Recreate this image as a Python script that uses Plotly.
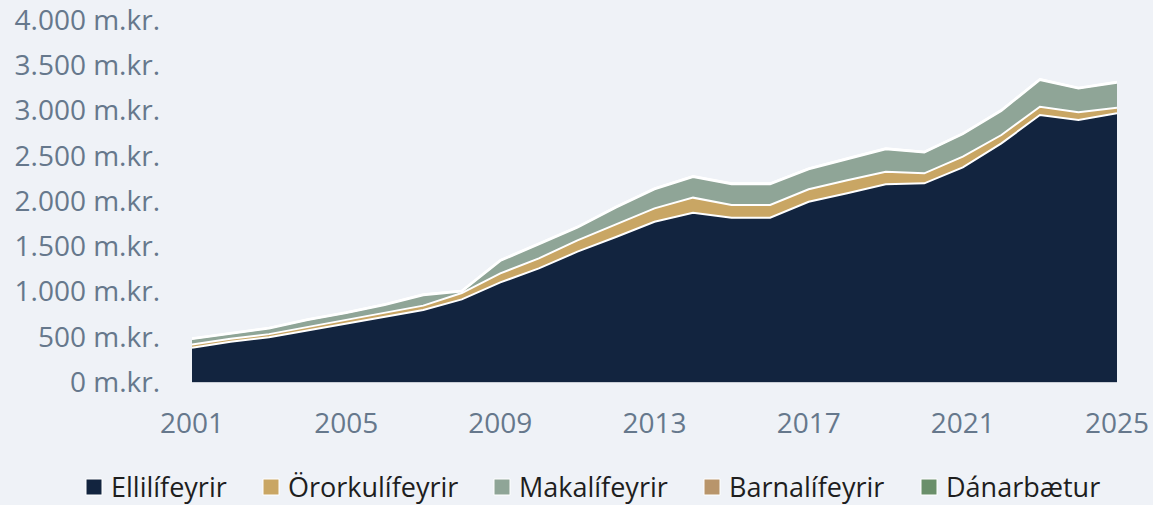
import plotly.graph_objects as go

# --- data (m.kr.) ---
years = list(range(2001, 2026))
ellilifeyrir = [379, 445, 494, 571, 644, 722, 796, 913, 1101, 1256, 1440, 1602, 1771,
                1871, 1816, 1816, 1992, 2085, 2184, 2195, 2372, 2637, 2950, 2895, 2969]
ororkulifeyrir = [35, 33, 35, 38, 42, 46, 48, 70, 100, 110, 125, 140, 148,
                  166, 140, 140, 137, 145, 140, 111, 118, 92, 92, 85, 62]
makalifeyrir = [60, 55, 62, 75, 75, 83, 115, 18, 137, 155, 140, 185, 211,
                229, 229, 229, 222, 232, 248, 229, 248, 267, 296, 262, 277]
barnalifeyrir = [7, 7, 7, 7, 7, 7, 8, 6, 8, 8, 8, 8, 8,
                 8, 8, 8, 8, 8, 8, 8, 8, 8, 8, 8, 8]
danarbaetur = [2, 2, 2, 2, 2, 2, 2, 2, 2, 2, 2, 2, 2,
               2, 2, 2, 2, 2, 2, 2, 2, 2, 2, 2, 2]

names = ["Ellilífeyrir", "Örorkulífeyrir", "Makalífeyrir", "Barnalífeyrir", "Dánarbætur"]
values = [ellilifeyrir, ororkulifeyrir, makalifeyrir, barnalifeyrir, danarbaetur]
colors = ["#12243F", "#C9A664", "#8FA597", "#B8956B", "#6A8F6A"]

W, H = 1153, 505
M_L, M_R, M_T, M_B = 192, 36, 20, 123
bg = "#EFF2F7"
txt = "#66788C"
font_family = "Open Sans"

fig = go.Figure()

for name, vals, color in zip(names, values, colors):
    fig.add_trace(go.Scatter(
        x=years, y=vals, name=name,
        mode="lines", stackgroup="one",
        line=dict(color="white", width=2),
        fillcolor=color,
        hoverinfo="x+y+name",
    ))

# --- legend drawn by hand (square swatch + label), one row under the axis ---
plot_w = W - M_L - M_R
plot_h = H - M_T - M_B
legend_left_px = [86, 263, 494, 704, 921]   # swatch left edges in px
legend_mid_px = 487                          # vertical centre in px
sw = 16
for name, color, lx in zip(names, colors, legend_left_px):
    x0 = (lx - M_L) / plot_w
    x1 = (lx + sw - M_L) / plot_w
    yc = (H - M_B - legend_mid_px) / plot_h
    hh = (sw / 2) / plot_h
    fig.add_shape(type="rect", xref="paper", yref="paper",
                  x0=x0, x1=x1, y0=yc - hh, y1=yc + hh,
                  fillcolor=color, line=dict(color="white", width=1))
    fig.add_annotation(xref="paper", yref="paper",
                       x=(lx + sw + 7 - M_L) / plot_w, y=yc,
                       xanchor="left", yanchor="middle", showarrow=False,
                       text=name,
                       font=dict(family=font_family, size=27, color="#1E1E1E"))

fig.update_xaxes(
    range=[2001, 2025],
    tickvals=list(range(2001, 2026, 4)),
    showgrid=False, zeroline=False,
    showline=True, linecolor="#C9CED6", linewidth=1,
    tickfont=dict(family=font_family, size=28, color=txt),
    ticklabelstandoff=16,
    ticklabeloverflow="allow",
)
fig.update_yaxes(
    range=[0, 4000], dtick=500,
    tickformat=",d", ticksuffix=" m.kr.",
    showgrid=False, zeroline=False,
    tickfont=dict(family=font_family, size=28, color=txt),
    ticklabelstandoff=31,
    ticklabeloverflow="allow",
)
fig.update_layout(
    width=W, height=H,
    separators=",.",
    plot_bgcolor=bg, paper_bgcolor=bg,
    margin=dict(l=M_L, r=M_R, t=M_T, b=M_B, autoexpand=False),
    font=dict(family=font_family, color="#222"),
    showlegend=False,
)

fig.write_html("out.html", config={"displayModeBar": False},
               post_script="document.body.style.margin='0';")
